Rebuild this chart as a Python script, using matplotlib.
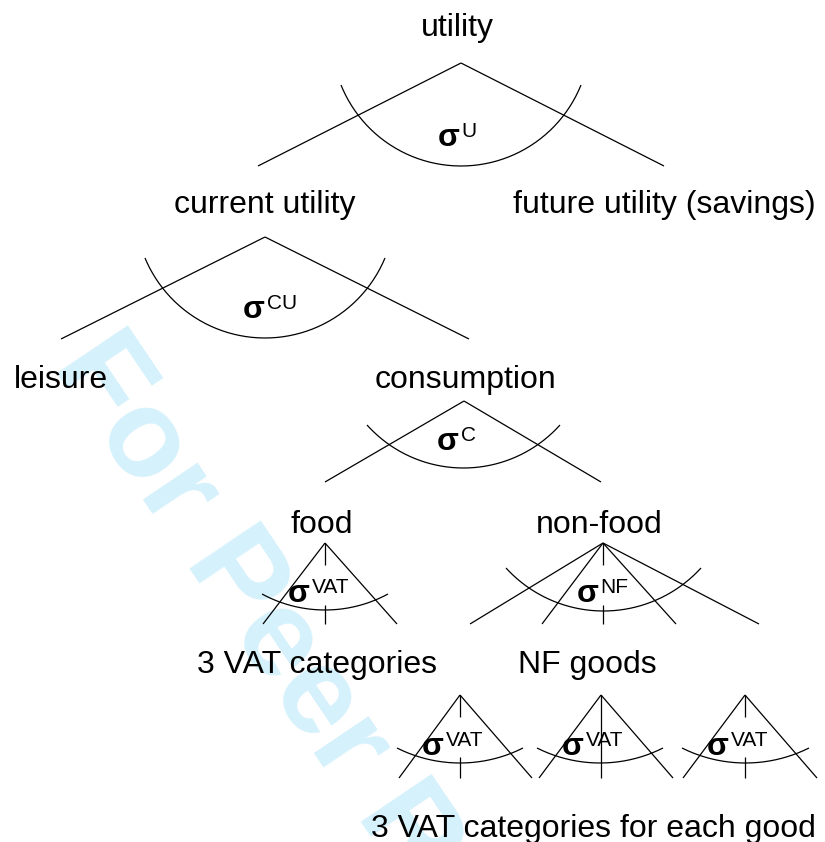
from __future__ import annotations

import matplotlib

matplotlib.use("Agg")
import matplotlib.pyplot as plt
import numpy as np

FONT = "Liberation Sans"

# tree labels (text, x, baseline y, horizontal alignment)
label_texts = [
    "utility",
    "current utility",
    "future utility (savings)",
    "leisure",
    "consumption",
    "food",
    "non-food",
    "3 VAT categories",
    "NF goods",
    "3 VAT categories for each good",
]
label_x = [457, 265, 513, 14, 465, 322, 599, 197, 587, 371]
label_y = [36, 213, 213, 388, 388, 533, 533, 673, 673, 837]
label_ha = ["center", "center", "left", "left", "center", "center", "center", "left", "center", "left"]

# one entry per nest: apex, branch ends, elasticity arc, gap in the middle branch
node_apex = [(461, 63), (265, 237), (464, 401), (325, 543), (603, 543),
             (460, 695), (601, 695), (745, 695)]
node_bottom = [166, 339, 482, 624, 624, 778, 778, 778]
node_ends = [
    [258, 664],
    [61, 469],
    [325, 601],
    [263, 325, 397],
    [470, 542, 603, 676, 759],
    [399, 460, 532],
    [539, 601, 673],
    [683, 745, 817],
]
# arc: left x, right x, top y of the ends, lowest y
node_arc = [
    (341, 581, 85, 166),
    (145, 385, 258, 338),
    (367, 560, 425, 468),
    (262, 388, 594, 610),
    (506, 701, 568, 611),
    (397, 523, 748, 763),
    (537, 663, 748, 763),
    (682, 809, 748, 763),
]
node_gap = [None, None, None, (565, 605), (565, 605), (717, 757), None, (717, 757)]

sigma_sup = ["U", "CU", "C", "VAT", "NF", "VAT", "VAT", "VAT"]
sigma_x = [460, 265, 459, 310, 599, 444, 584, 729]
sigma_y = [146, 318, 450, 602, 602, 755, 755, 755]

LINE_KW = dict(color="black", linewidth=0.9, solid_capstyle="butt", zorder=2)


def draw_arc(ax, xl, xr, yt, yb):
    half = (xr - xl) / 2.0
    xc = (xl + xr) / 2.0
    rise = yb - yt
    radius = (half ** 2 + rise ** 2) / (2.0 * rise)
    cy = yb - radius
    a_right = np.arctan2(yt - cy, xr - xc)
    a_left = np.arctan2(yt - cy, xl - xc)
    theta = np.linspace(a_right, a_left, 200)
    ax.plot(xc + radius * np.cos(theta), cy + radius * np.sin(theta), **LINE_KW)


def main() -> int:
    fig = plt.figure(figsize=(8.25, 8.42), dpi=100)
    ax = fig.add_axes([0, 0, 1, 1])
    ax.set_xlim(0, 825)
    ax.set_ylim(842, 0)
    ax.axis("off")

    # watermark
    ax.text(52, 365, "For Peer Review", fontsize=90, fontweight="bold", family=FONT,
            color="#d5f1fc", rotation=-56, rotation_mode="anchor",
            ha="left", va="baseline", zorder=0)

    for apex, bottom, ends, arc, gap in zip(node_apex, node_bottom, node_ends, node_arc, node_gap):
        ax_x, ax_y = apex
        for end_x in ends:
            if gap is not None and abs(end_x - ax_x) < 1:
                ax.plot([ax_x, ax_x], [ax_y, gap[0]], **LINE_KW)
                ax.plot([ax_x, ax_x], [gap[1], bottom], **LINE_KW)
            else:
                ax.plot([ax_x, end_x], [ax_y, bottom], **LINE_KW)
        draw_arc(ax, *arc)

    for sup, sx, sy in zip(sigma_sup, sigma_x, sigma_y):
        ax.text(sx, sy, "\u03c3", fontsize=23, fontweight="bold", family=FONT,
                ha="right", va="baseline", zorder=3)
        ax.text(sx + 1.5, sy - 9, sup, fontsize=15, family=FONT,
                ha="left", va="baseline", zorder=3)

    for text, x, y, ha in zip(label_texts, label_x, label_y, label_ha):
        ax.text(x, y, text, fontsize=23, family=FONT, ha=ha, va="baseline", zorder=3)

    fig.savefig("out.png", dpi=100, facecolor="white")
    plt.close(fig)
    return 0


if __name__ == "__main__":
    raise SystemExit(main())
